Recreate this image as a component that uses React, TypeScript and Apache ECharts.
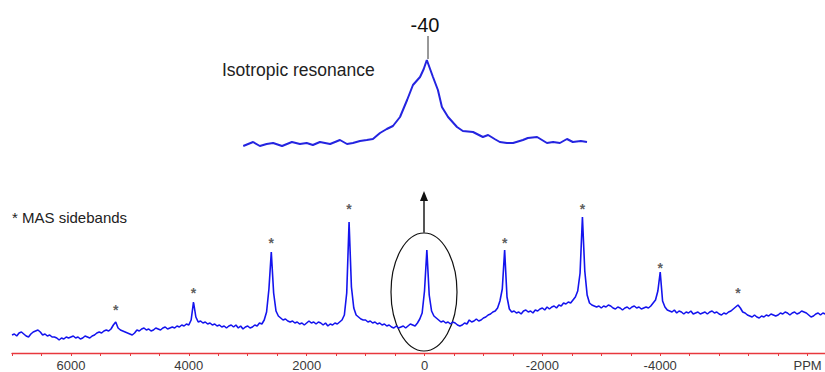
import React, { useEffect, useRef } from "react";
import * as echarts from "echarts";

// Main MAS spectrum: intensities sampled every 40 ppm from 7000 ppm down to -6800 ppm
const mainStartPpm = 7000;
const mainStepPpm = -40;
const mainIntensity = [
  18, 19, 17, 20, 21, 19, 17, 16, 19, 21, 22, 23, 21, 18, 19, 17, 18, 16, 16, 15, 13, 15, 14, 16, 15,
  16, 17, 15, 16, 14, 15, 17, 16, 15, 17, 18, 20, 21, 20, 22, 23, 22, 24, 28, 31, 25, 23, 22, 21, 20,
  19, 18, 20, 23, 22, 24, 25, 23, 24, 22, 23, 25, 24, 23, 25, 26, 24, 25, 26, 25, 27, 26, 28, 27, 29,
  28, 33, 51, 36, 31, 32, 30, 31, 29, 30, 28, 29, 27, 28, 26, 27, 25, 27, 28, 26, 28, 25, 27, 24, 26,
  27, 25, 26, 28, 27, 30, 29, 33, 41, 64, 101, 60, 42, 37, 35, 33, 34, 32, 31, 32, 30, 31, 29, 30, 28,
  30, 32, 30, 31, 29, 31, 30, 28, 30, 27, 29, 28, 30, 29, 31, 33, 38, 60, 131, 66, 45, 38, 36, 34, 33,
  33, 31, 32, 30, 31, 29, 30, 28, 29, 27, 28, 26, 25, 27, 25, 26, 27, 25, 27, 29, 28, 27, 30, 34, 40,
  62, 103, 58, 42, 37, 35, 33, 31, 32, 30, 31, 29, 31, 30, 28, 27, 28, 30, 29, 33, 31, 32, 34, 32, 33,
  35, 36, 38, 39, 41, 42, 45, 52, 64, 103, 56, 44, 41, 42, 40, 41, 39, 42, 43, 41, 42, 40, 43, 42, 44,
  45, 43, 46, 44, 46, 47, 45, 48, 47, 50, 49, 51, 50, 53, 56, 62, 80, 136, 82, 58, 50, 48, 47, 46, 47,
  45, 47, 46, 48, 47, 45, 44, 46, 45, 43, 45, 46, 44, 46, 47, 45, 46, 44, 45, 46, 45, 47, 50, 53, 62,
  81, 52, 46, 43, 42, 41, 43, 40, 42, 41, 39, 41, 40, 42, 39, 40, 41, 39, 40, 41, 39, 41, 42, 40, 41,
  39, 38, 40, 39, 41, 42, 44, 46, 48, 45, 41, 40, 38, 37, 36, 38, 36, 35, 37, 36, 38, 37, 39, 38, 37,
  38, 40, 39, 41, 40, 38, 40, 41, 39, 40, 42, 41, 40, 38, 36, 37, 39, 40, 38, 40, 39,
];

// Inset: expanded isotropic resonance, [ppm, intensity]
const insetSpectrum: [number, number][] = [
  [556, 9], [524, 13], [502, 9], [480, 11], [459, 12], [430, 9], [398, 13], [372, 11],
  [350, 12], [330, 10], [307, 13], [274, 11], [242, 15], [219, 11], [200, 12], [177, 14],
  [155, 15], [135, 16], [112, 22], [90, 26], [70, 29], [47, 38], [24, 55], [5, 70],
  [-18, 78], [-30, 86], [-40, 95], [-60, 78], [-76, 65], [-89, 48], [-109, 38], [-138, 28],
  [-157, 24], [-190, 23], [-222, 18], [-239, 20], [-260, 16], [-277, 13], [-300, 12], [-320, 12],
  [-352, 15], [-368, 17], [-398, 18], [-430, 12], [-450, 13], [-472, 12], [-495, 16], [-514, 13],
  [-540, 14], [-560, 13],
];

// Asterisk markers over the spinning sidebands, [ppm, height]
const sidebandMarks: [number, number][] = [
  [5240, 46], [3920, 63], [2600, 113], [1280, 147],
  [-1360, 113], [-2680, 147], [-4000, 88], [-5320, 63],
];

const labeledTicks = [6000, 4000, 2000, 0, -2000, -4000];
const unitTick = -6500;
const unitLabel = "PPM";
const isoShiftLabel = "-40";
const insetTitle = "Isotropic resonance";
const sidebandNote = "* MAS sidebands";

const mainData = mainIntensity.map((v, i) => [mainStartPpm + i * mainStepPpm, v]);

export default function App() {
  const ref = useRef<HTMLDivElement>(null);

  useEffect(() => {
    document.body.style.margin = "0";
    const chart = echarts.init(ref.current!, null, { renderer: "svg" });
    const font = "'Liberation Sans', Arial, sans-serif";
    chart.setOption({
      animation: false,
      grid: [
        { left: 12, right: -12, top: 153, bottom: 19, outerBoundsMode: "none", containLabel: false },
        { left: 242, right: 238, top: 40, bottom: 217, outerBoundsMode: "none", containLabel: false },
      ],
      xAxis: [
        {
          type: "value",
          gridIndex: 0,
          inverse: true,
          min: -7000,
          max: 7000,
          interval: 500,
          axisLine: { show: true, onZero: false, lineStyle: { color: "#e8383d", width: 1.3 } },
          axisTick: { show: true, length: 3, lineStyle: { color: "#e8383d", width: 1 } },
          splitLine: { show: false },
          axisLabel: {
            color: "#3a3a3a",
            fontSize: 13,
            fontFamily: font,
            margin: 6,
            showMinLabel: true,
            showMaxLabel: true,
            formatter: (v: number) =>
              labeledTicks.includes(v) ? String(v) : v === unitTick ? unitLabel : "",
          },
        },
        { type: "value", gridIndex: 1, inverse: true, min: -560, max: 560, show: false },
      ],
      yAxis: [
        { type: "value", gridIndex: 0, min: 0, max: 200, show: false },
        { type: "value", gridIndex: 1, min: 0, max: 115, show: false },
      ],
      series: [
        {
          type: "line",
          xAxisIndex: 0,
          yAxisIndex: 0,
          data: mainData,
          showSymbol: false,
          lineStyle: { color: "#1414ee", width: 1.6 },
          z: 3,
        },
        {
          type: "line",
          xAxisIndex: 1,
          yAxisIndex: 1,
          data: insetSpectrum,
          showSymbol: false,
          lineStyle: { color: "#2424e0", width: 2 },
        },
        {
          type: "scatter",
          xAxisIndex: 0,
          yAxisIndex: 0,
          data: sidebandMarks,
          symbol: "circle",
          symbolSize: 1,
          itemStyle: { color: "transparent" },
          label: {
            show: true,
            position: "inside",
            formatter: "*",
            color: "#333",
            fontSize: 14,
            fontWeight: "bold",
            fontFamily: font,
            offset: [0, 3],
          },
        },
      ],
      graphic: [
        {
          type: "text",
          left: 12,
          top: 210,
          style: { text: sidebandNote, fill: "#222", font: `15px ${font}` },
        },
        {
          type: "text",
          left: 222,
          top: 61,
          style: { text: insetTitle, fill: "#222", font: `17.5px ${font}` },
        },
        {
          type: "text",
          x: 425,
          y: 25,
          style: {
            text: isoShiftLabel,
            fill: "#111",
            font: `20px ${font}`,
            align: "center",
            verticalAlign: "middle",
          },
        },
        {
          type: "line",
          shape: { x1: 428, y1: 36, x2: 428, y2: 59 },
          style: { stroke: "#333", lineWidth: 1 },
        },
        {
          type: "ellipse",
          shape: { cx: 424, cy: 292, rx: 33, ry: 59 },
          style: { stroke: "#111", lineWidth: 1.2, fill: "none" },
        },
        {
          type: "line",
          shape: { x1: 424, y1: 233, x2: 424, y2: 199 },
          style: { stroke: "#555", lineWidth: 2 },
        },
        {
          type: "polygon",
          shape: { points: [[420, 201], [428, 201], [424, 191]] },
          style: { fill: "#111" },
        },
      ],
    });
    return () => chart.dispose();
  }, []);

  return <div ref={ref} style={{ width: 825, height: 372 }} />;
}
